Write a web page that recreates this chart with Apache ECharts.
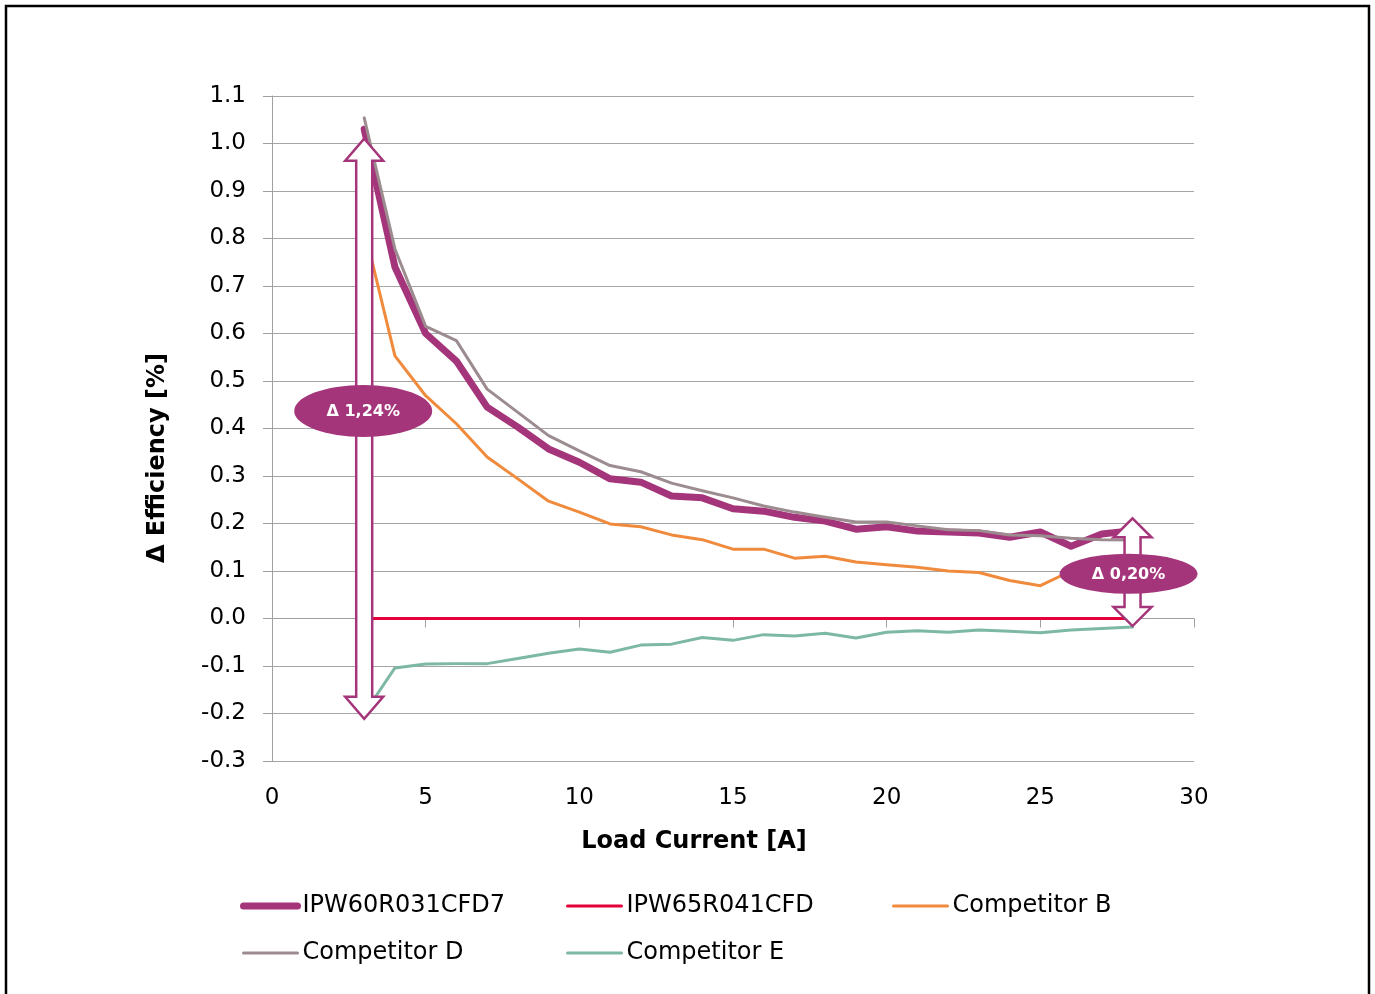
<!DOCTYPE html>
<html>
<head>
<meta charset="utf-8">
<script src="https://cdn.jsdelivr.net/npm/echarts@6/dist/echarts.min.js"></script>
<style>html,body{margin:0;padding:0;background:#fff;}#chart{width:1375px;height:994px;}</style>
</head>
<body>
<div id="chart"></div>
<script>
// ---- data ----
var loadCurrent = [3,4,5,6,7,8,9,10,11,12,13,14,15,16,17,18,19,20,21,22,23,24,25,26,27,28];
var ipw60r031cfd7 = [1.03,0.74,0.60,0.542,0.445,0.403,0.357,0.329,0.294,0.287,0.258,0.254,0.231,0.226,0.213,0.205,0.188,0.193,0.184,0.182,0.18,0.171,0.182,0.152,0.178,0.185];
var ipw65r041cfd  = [0,0,0,0,0,0,0,0,0,0,0,0,0,0,0,0,0,0,0,0,0,0,0,0,0,0];
var competitorB   = [0.82,0.553,0.469,0.41,0.34,0.294,0.247,0.224,0.199,0.193,0.176,0.166,0.146,0.146,0.127,0.131,0.119,0.113,0.108,0.10,0.097,0.08,0.069,0.10,0.105,0.11];
var competitorD   = [1.054,0.778,0.615,0.585,0.483,0.434,0.385,0.353,0.322,0.309,0.285,0.269,0.254,0.237,0.224,0.213,0.203,0.203,0.195,0.187,0.185,0.176,0.174,0.169,0.166,0.165];
var competitorE   = [-0.2,-0.104,-0.096,-0.095,-0.095,-0.084,-0.073,-0.064,-0.071,-0.056,-0.054,-0.04,-0.046,-0.034,-0.037,-0.031,-0.041,-0.029,-0.026,-0.029,-0.024,-0.027,-0.03,-0.024,-0.021,-0.018];
var seriesNames = ['IPW60R031CFD7','IPW65R041CFD','Competitor B','Competitor D','Competitor E'];
// annotation arrows: x position, top value, bottom value, label centre value
var arrowX      = [3, 28];
var arrowTop    = [1.01, 0.211];
var arrowBottom = [-0.211, -0.016];
var arrowLabelY = [0.437, 0.094];
var arrowLabels = ['Δ 1,24%', 'Δ 0,20%'];
var xTicks = {min:0, max:30, interval:5};
var yTicks = {min:-0.3, max:1.1, interval:0.1};

// ---- styling ----
var FONT = 'DejaVu Sans';
var PURPLE = '#A5357A';
var colors = [PURPLE, '#E4003A', '#F08A3C', '#9C8C8F', '#7DB8A4'];
var widths = [7, 3, 3, 3, 3];
var allData = [ipw60r031cfd7, ipw65r041cfd, competitorB, competitorD, competitorE];
var ellipseSize = [[69, 26], [69, 20]];
var ellipseDx = [-1, -4];

function pairs(ys){ return loadCurrent.map(function(x,i){ return [x, ys[i]]; }); }

var series = seriesNames.map(function(n, i){
  return {
    name: n, type: 'line', data: pairs(allData[i]), symbol: 'none',
    lineStyle: {color: colors[i], width: widths[i], cap: 'round', join: 'round'},
    itemStyle: {color: colors[i]},
    z: 2 + (i === 0 ? 0 : 1)
  };
});

series.push({
  type: 'custom', name: 'annotations', z: 10, clip: false,
  data: arrowX.map(function(x,i){ return [x, arrowTop[i], arrowBottom[i], arrowLabelY[i]]; }),
  renderItem: function(params, api){
    var i = params.dataIndex;
    var x = api.value(0);
    var pT = api.coord([x, api.value(1)]);
    var pB = api.coord([x, api.value(2)]);
    var pL = api.coord([x, api.value(3)]);
    var cx = pT[0], sw = 8, hw = 19, hl = (i === 0 ? 22 : 19);
    var pts = [[cx, pT[1]], [cx+hw, pT[1]+hl], [cx+sw, pT[1]+hl], [cx+sw, pB[1]-hl], [cx+hw, pB[1]-hl],
               [cx, pB[1]], [cx-hw, pB[1]-hl], [cx-sw, pB[1]-hl], [cx-sw, pT[1]+hl], [cx-hw, pT[1]+hl]];
    var ex = pL[0] + ellipseDx[i], ey = pL[1];
    return {
      type: 'group',
      children: [
        {type: 'polygon', shape: {points: pts}, style: {fill: '#fff', stroke: PURPLE, lineWidth: 2.5}},
        {type: 'circle', shape: {cx: 0, cy: 0, r: 50}, x: ex, y: ey,
         scaleX: ellipseSize[i][0]/50, scaleY: ellipseSize[i][1]/50, style: {fill: PURPLE}},
        {type: 'text', x: ex, y: ey + 1,
         style: {text: arrowLabels[i], fill: '#fff', font: 'bold 16px "' + FONT + '"', align: 'center', verticalAlign: 'middle'}}
      ]
    };
  }
});

function legend(left, names){
  return {
    left: left, top: 893, padding: 0, orient: 'vertical', itemWidth: 54, itemHeight: 14, itemGap: 21,
    selectedMode: false,
    data: names.map(function(n){
      var k = seriesNames.indexOf(n);
      return {name: n, lineStyle: {color: colors[k], width: widths[k], cap: 'round'}};
    }),
    itemStyle: {opacity: 0},
    textStyle: {fontFamily: FONT, fontSize: 24, color: '#000', lineHeight: 26}
  };
}

var chart = echarts.init(document.getElementById('chart'), null, {renderer: 'canvas'});
chart.setOption({
  animation: false,
  backgroundColor: '#fff',
  textStyle: {fontFamily: FONT},
  grid: {left: 272, right: 181, top: 96, bottom: 233},
  xAxis: {
    type: 'value', min: xTicks.min, max: xTicks.max, interval: xTicks.interval,
    axisLine: {show: true, lineStyle: {color: '#A0A0A0', width: 1}},
    axisTick: {show: true, inside: false, length: 9, lineStyle: {color: '#A0A0A0'}},
    splitLine: {show: false},
    axisLabel: {fontFamily: FONT, fontSize: 23, color: '#000', margin: 26}
  },
  yAxis: {
    type: 'value', min: yTicks.min, max: yTicks.max, interval: yTicks.interval,
    axisLine: {show: true, onZero: false, lineStyle: {color: '#A0A0A0', width: 1}},
    axisTick: {show: true, inside: false, length: 9, lineStyle: {color: '#A0A0A0'}},
    splitLine: {show: true, lineStyle: {color: '#A6A6A6', width: 1}},
    axisLabel: {fontFamily: FONT, fontSize: 23, color: '#000', margin: 26,
      formatter: function(v){ return Math.abs(v) < 1e-9 ? '0.0' : v.toFixed(1); }}
  },
  legend: [
    legend(240, ['IPW60R031CFD7', 'Competitor D']),
    legend(566, ['IPW65R041CFD', 'Competitor E']),
    legend(892, ['Competitor B'])
  ],
  graphic: [
    {type: 'rect', shape: {x: 6, y: 6, width: 1363, height: 1010}, style: {fill: 'none', stroke: '#000', lineWidth: 2.5}, silent: true},
    {type: 'text', x: 158, y: 458, rotation: Math.PI/2,
     style: {text: 'Δ Efficiency [%]', font: 'bold 24px "' + FONT + '"', fill: '#000', align: 'center', verticalAlign: 'middle'}},
    {type: 'text', x: 694, y: 842,
     style: {text: 'Load Current [A]', font: 'bold 24px "' + FONT + '"', fill: '#000', align: 'center', verticalAlign: 'middle'}}
  ],
  series: series
});
</script>
</body>
</html>
